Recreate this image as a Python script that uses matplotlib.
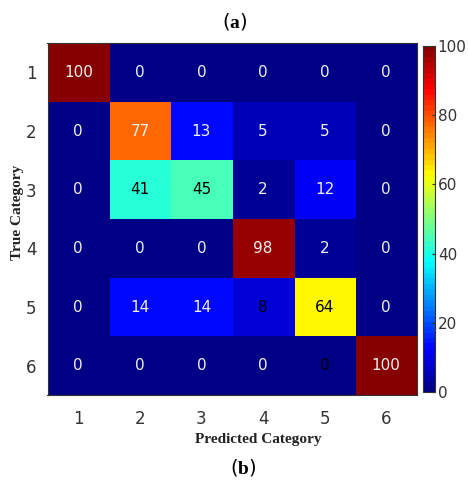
import numpy as np
import matplotlib
matplotlib.use("Agg")
import matplotlib.pyplot as plt

plt.rcParams['mathtext.fontset'] = 'custom'
plt.rcParams['mathtext.rm'] = 'Liberation Serif'
plt.rcParams['mathtext.bf'] = 'Liberation Serif:bold'

categories = ['1', '2', '3', '4', '5', '6']
values = [
    [100, 0, 0, 0, 0, 0],
    [0, 77, 13, 5, 5, 0],
    [0, 41, 45, 2, 12, 0],
    [0, 0, 0, 98, 2, 0],
    [0, 14, 14, 8, 64, 0],
    [0, 0, 0, 0, 0, 100],
]
text_dark = [
    [0, 0, 0, 0, 0, 0],
    [0, 0, 0, 0, 0, 0],
    [0, 1, 1, 0, 0, 0],
    [0, 0, 0, 0, 0, 0],
    [0, 0, 0, 1, 1, 0],
    [0, 0, 0, 0, 1, 0],
]
cbar_ticks = [0, 20, 40, 60, 80, 100]

# MATLAB-style jet with 64 levels
n = 64
idx = np.arange(n)
def ramp(center):
    return np.clip(1.5 - np.abs(4 * (idx + 0.5) / n - center), 0, 1)
cols = np.stack([ramp(3), ramp(2), ramp(1)], axis=1)
cmap = matplotlib.colors.ListedColormap(cols)

W, H = 468, 483
fig = plt.figure(figsize=(W / 100, H / 100), dpi=100)
ax = fig.add_axes([47.5 / W, 1 - 395 / H, (417 - 47.5) / W, (395 - 43) / H])
data = np.array(values)
im = ax.imshow(data, cmap=cmap, vmin=0, vmax=100, aspect='auto')
for i in range(6):
    for j in range(6):
        ax.text(j, i, str(values[i][j]), ha='center', va='center',
                color='black' if text_dark[i][j] else '#f0f0f0', fontsize=11)
ax.set_xticks(range(6))
ax.set_xticklabels(categories)
ax.set_yticks(range(6))
ax.set_yticklabels(categories)
ax.tick_params(axis='x', length=0, labelsize=12, colors='#333333', pad=11)
ax.tick_params(axis='y', length=0, labelsize=12, colors='#333333', pad=8)
for s in ax.spines.values():
    s.set_color('#333333')
    s.set_linewidth(0.8)

cax = fig.add_axes([423 / W, 1 - 392 / H, 12 / W, (392 - 46) / H])
cb = fig.colorbar(im, cax=cax, ticks=cbar_ticks)
cb.ax.tick_params(labelsize=11, colors='#333333', length=2, width=0.8, direction='in', pad=2)
cb.outline.set_edgecolor('#333333')
cb.outline.set_linewidth(0.8)

fig.text(258 / W, 1 - 440 / H, 'Predicted Category', ha='center', va='center',
         family='Liberation Serif', fontweight='bold', fontsize=11, color='#222222')
fig.text(18 / W, 1 - 212 / H, 'True Category', ha='center', va='center', rotation=90,
         family='Liberation Serif', fontweight='bold', fontsize=11, color='#222222')
fig.text(235 / W, 1 - 22 / H, r'($\mathbf{a}$)', ha='center', va='center', fontsize=14, color='black')
fig.text(243 / W, 1 - 467 / H, r'($\mathbf{b}$)', ha='center', va='center', fontsize=14, color='black')

fig.savefig('out.png', dpi=100)
